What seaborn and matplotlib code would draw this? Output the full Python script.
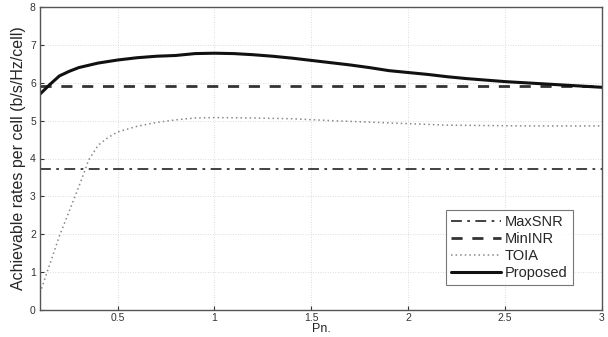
import numpy as np
import pandas as pd
import matplotlib
matplotlib.use("Agg")
import matplotlib.pyplot as plt
import seaborn as sns

# ---- data ----
pn_prop = [0.1, 0.15, 0.2, 0.25, 0.3, 0.4, 0.5, 0.6, 0.7, 0.8, 0.9, 1.0, 1.1, 1.2, 1.3, 1.4, 1.5,
           1.6, 1.7, 1.8, 1.9, 2.0, 2.1, 2.2, 2.3, 2.4, 2.5, 2.6, 2.7, 2.8, 2.9, 3.0]
proposed = [5.70, 5.95, 6.18, 6.30, 6.40, 6.52, 6.60, 6.66, 6.70, 6.72, 6.77, 6.78, 6.77, 6.74, 6.70,
            6.65, 6.59, 6.53, 6.47, 6.40, 6.32, 6.27, 6.22, 6.16, 6.11, 6.07, 6.03, 6.00, 5.97, 5.94,
            5.91, 5.88]
pn_toia = [0.1, 0.2, 0.3, 0.335, 0.35, 0.4, 0.45, 0.5, 0.6, 0.7, 0.8, 0.9, 1.0, 1.2, 1.4, 1.6, 1.8,
           2.0, 2.2, 2.4, 2.6, 2.8, 3.0]
toia = [0.45, 1.95, 3.25, 3.73, 3.95, 4.35, 4.55, 4.70, 4.85, 4.95, 5.02, 5.07, 5.08, 5.07, 5.05,
        5.00, 4.96, 4.92, 4.88, 4.87, 4.86, 4.86, 4.86]
pn_const = [0.1, 3.0]
maxsnr = [3.73, 3.73]
mininr = [5.91, 5.91]

xticks = [0.5, 1, 1.5, 2, 2.5, 3]
xticklabels = ["0.5", "1", "1.5", "2", "2.5", "3"]
yticks = [0, 1, 2, 3, 4, 5, 6, 7, 8]

sns.set_style("ticks")
plt.rcParams['font.family'] = ['Liberation Sans', 'DejaVu Sans']

fig = plt.figure(figsize=(6.08, 3.37), dpi=100)
ax = fig.add_axes([40/608, 1 - 310/337, (602-40)/608, (310-7)/337])

df_max = pd.DataFrame({"Pn": pn_const, "rate": maxsnr})
df_min = pd.DataFrame({"Pn": pn_const, "rate": mininr})
df_toia = pd.DataFrame({"Pn": pn_toia, "rate": toia})
df_prop = pd.DataFrame({"Pn": pn_prop, "rate": proposed})

sns.lineplot(data=df_max, x="Pn", y="rate", ax=ax, color="#333333", lw=1.3,
             linestyle=(0, (6, 3, 1.5, 3)), label="MaxSNR")
sns.lineplot(data=df_min, x="Pn", y="rate", ax=ax, color="#333333", lw=2.0,
             linestyle=(0, (4, 3.5)), label="MinINR")
sns.lineplot(data=df_toia, x="Pn", y="rate", ax=ax, color="#888888", lw=1.1,
             linestyle=(0, (1, 2)), label="TOIA")
sns.lineplot(data=df_prop, x="Pn", y="rate", ax=ax, color="#111111", lw=2.2,
             linestyle="-", label="Proposed")

ax.set_xlim(0.1, 3)
ax.set_ylim(0, 8)
ax.set_xticks(xticks)
ax.set_xticklabels(xticklabels)
ax.set_yticks(yticks)
ax.tick_params(direction="in", length=3, labelsize=7.5, colors="#333333", pad=3)
ax.tick_params(axis="x", pad=2)
ax.grid(True, linestyle=(0, (1, 2)), color="#d0d0d0", lw=0.6)
for s in ax.spines.values():
    s.set_color("#555555")
    s.set_linewidth(1.0)

ax.set_xlabel("Pn.", fontsize=9, labelpad=0)
ax.set_ylabel("Achievable rates per cell (b/s/Hz/cell)", fontsize=11.5, labelpad=3)

leg = ax.legend(loc="lower right", bbox_to_anchor=(0.948, 0.083), fontsize=10.5, frameon=True,
                fancybox=False, edgecolor="#555555", handlelength=3.4, handletextpad=0.3,
                borderpad=0.35, labelspacing=0.2, borderaxespad=0)
leg.get_frame().set_linewidth(0.8)

fig.savefig("out.png", dpi=100)
